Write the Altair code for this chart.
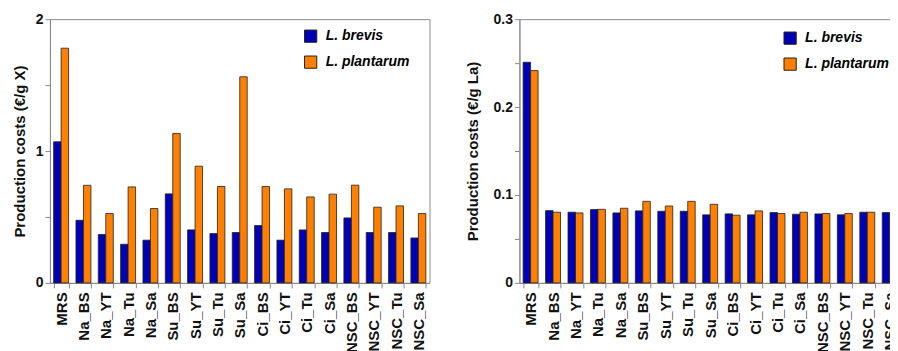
import altair as alt
import pandas as pd

categories = ["MRS", "Na_BS", "Na_YT", "Na_Tu", "Na_Sa", "Su_BS", "Su_YT", "Su_Tu",
              "Su_Sa", "Ci_BS", "Ci_YT", "Ci_Tu", "Ci_Sa", "NSC_BS", "NSC_YT", "NSC_Tu", "NSC_Sa"]
series = ["L. brevis", "L. plantarum"]

# Production costs per g biomass (€/g X)
x_brevis = [1.07, 0.475, 0.367, 0.293, 0.324, 0.675, 0.402, 0.374, 0.382, 0.435,
            0.324, 0.402, 0.382, 0.493, 0.382, 0.382, 0.341]
x_plantarum = [1.78, 0.74, 0.526, 0.728, 0.564, 1.133, 0.885, 0.731, 1.563, 0.731,
               0.713, 0.652, 0.673, 0.741, 0.574, 0.584, 0.526]

# Production costs per g lactic acid (€/g La)
la_brevis = [0.251, 0.0822, 0.0804, 0.0834, 0.0796, 0.0819, 0.0815, 0.0815, 0.0774,
             0.0785, 0.0774, 0.0800, 0.0781, 0.0785, 0.0774, 0.0804, 0.0800]
la_plantarum = [0.2415, 0.0804, 0.0796, 0.0837, 0.0849, 0.0928, 0.0875, 0.0928, 0.0894,
                0.0770, 0.0819, 0.0789, 0.0804, 0.0789, 0.0789, 0.0804, 0.0800]

BLUE = "#0000b4"
ORANGE = "#ff7f00"
GRAY = "#8a8a8a"
FONT = "Liberation Sans"


def make_df(b, p):
    rows = []
    for c, vb, vp in zip(categories, b, p):
        rows.append({"cat": c, "series": series[0], "value": vb})
        rows.append({"cat": c, "series": series[1], "value": vp})
    return pd.DataFrame(rows)


def panel(df, ytitle, ymax, yvals, lexpr, width, height, legx, legy, tpad):
    return alt.Chart(df).mark_bar(stroke="#222222", strokeWidth=0.8).encode(
        x=alt.X("cat:N", sort=categories,
                scale=alt.Scale(paddingInner=0.33, paddingOuter=0.165),
                axis=alt.Axis(title=None, labelAngle=-90, tickBand="extent",
                              labelPadding=4, labelFontSize=15)),
        xOffset=alt.XOffset("series:N", sort=series,
                            scale=alt.Scale(paddingInner=0, paddingOuter=0)),
        y=alt.Y("value:Q", scale=alt.Scale(domain=[0, ymax], nice=False, zero=True),
                axis=alt.Axis(title=ytitle, values=yvals, labelExpr=lexpr, grid=False,
                              titlePadding=tpad)),
        color=alt.Color("series:N",
                        scale=alt.Scale(domain=series, range=[BLUE, ORANGE]),
                        legend=alt.Legend(title=None, orient="none", legendX=legx, legendY=legy,
                                          symbolType="square", symbolSize=150,
                                          symbolStrokeColor="#222222", symbolStrokeWidth=1,
                                          labelFontStyle="italic", labelFontWeight="bold",
                                          labelFontSize=14, labelFont=FONT, rowPadding=8,
                                          labelOffset=8)),
    ).properties(width=width, height=height)


left = panel(make_df(x_brevis, x_plantarum), "Production costs (€/g X)", 2,
             [0, 0.5, 1, 1.5, 2], "datum.value % 1 == 0 ? format(datum.value, 'd') : ''",
             380, 264, 254, 10, 8)
right = panel(make_df(la_brevis, la_plantarum), "Production costs (€/g La)", 0.3,
              [0, 0.05, 0.1, 0.15, 0.2, 0.25, 0.3],
              "datum.value == 0 ? '0' : (round(datum.value * 100) % 10 == 0 ? format(datum.value, '.1f') : '')",
              382, 264, 264, 12, 13)

chart = alt.hconcat(left, right, spacing=34).resolve_scale(
    color="independent").resolve_legend(color="independent").configure(
    font=FONT
).configure_axis(
    labelFont=FONT, titleFont=FONT, labelFontSize=14, labelFontWeight="bold",
    titleFontSize=15, titleFontWeight="bold", labelColor="#111111", titleColor="#111111",
    domainColor=GRAY, tickColor=GRAY, tickSize=5
).configure_view(stroke=GRAY).properties(padding={"left": 3, "top": 3, "right": -12, "bottom": 0})

chart.save("out.html", embed_options={"renderer": "svg", "actions": False})
